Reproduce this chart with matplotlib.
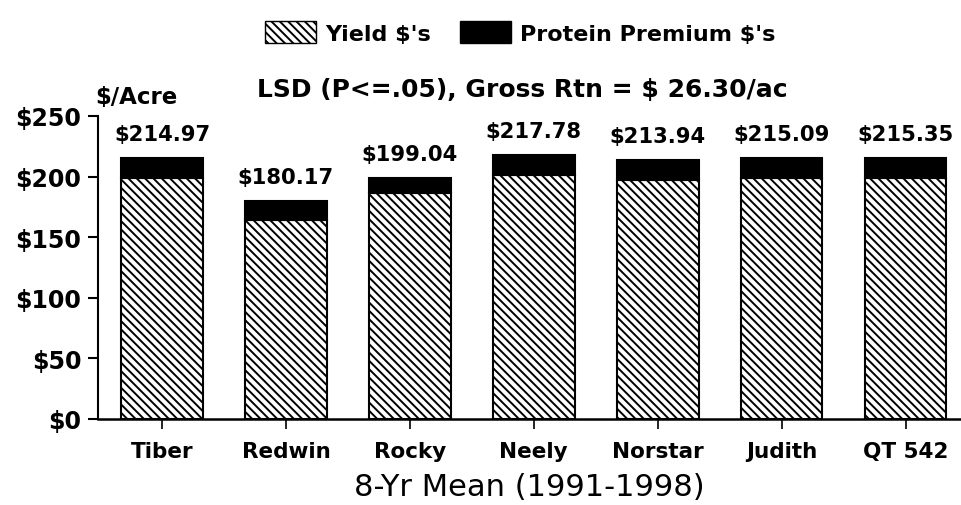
import matplotlib
matplotlib.use("Agg")
import matplotlib.pyplot as plt
import matplotlib.patches as mpatches

plt.rcParams['font.family'] = ['DejaVu Sans']
plt.rcParams['hatch.linewidth'] = 1.4

# data
varieties = ["Tiber", "Redwin", "Rocky", "Neely", "Norstar", "Judith", "QT 542"]
totals = [214.97, 180.17, 199.04, 217.78, 213.94, 215.09, 215.35]
yield_dollars = [199.0, 164.5, 186.0, 201.5, 197.5, 198.5, 198.5]
premium_dollars = [t - y for t, y in zip(totals, yield_dollars)]
yticks = [0, 50, 100, 150, 200, 250]


def main():
    fig = plt.figure(figsize=(9.61, 5.06), dpi=100)
    ax = fig.add_axes([0.102, 0.170, 0.897, 0.599])

    x = list(range(len(varieties)))
    ax.bar(x, yield_dollars, width=0.66, color="white", edgecolor="black",
           hatch="\\\\\\\\", linewidth=1.5)
    ax.bar(x, premium_dollars, width=0.66, bottom=yield_dollars,
           color="black", edgecolor="black", linewidth=1.5)

    for xi, t in zip(x, totals):
        ax.annotate(f"${t:.2f}", (xi, t), xytext=(0, 10), textcoords="offset points",
                    ha="center", va="bottom", fontsize=15.2, fontweight="bold")

    ax.set_xlim(-0.516, 6.44)
    ax.set_ylim(0, 250)
    ax.set_xticks(x)
    ax.set_xticklabels(varieties, fontsize=15.5, fontweight="bold")
    ax.set_yticks(yticks)
    ax.set_yticklabels([f"${v}" for v in yticks], fontsize=17, fontweight="bold")
    ax.tick_params(axis="y", length=7, width=1.5, pad=5)
    ax.tick_params(axis="x", length=7, width=1.2, pad=9)

    for s in ["top", "right"]:
        ax.spines[s].set_visible(False)
    ax.spines["left"].set_linewidth(1.5)
    ax.spines["bottom"].set_linewidth(1.8)

    ax.set_xlabel("8-Yr Mean (1991-1998)", fontsize=22, labelpad=8)

    fig.text(0.099, 0.808, "$/Acre", fontsize=16.5, fontweight="bold",
             ha="left", va="center")
    fig.text(0.543, 0.822, "LSD (P<=.05), Gross Rtn = $ 26.30/ac",
             fontsize=18, fontweight="bold", ha="center", va="center")

    handles = [
        mpatches.Patch(facecolor="white", edgecolor="black", hatch="\\\\\\\\", linewidth=1),
        mpatches.Patch(facecolor="black", edgecolor="black"),
    ]
    fig.legend(handles, ["Yield $'s", "Protein Premium $'s"], loc="center",
               bbox_to_anchor=(0.541, 0.934), ncol=2, frameon=False,
               prop={"size": 16, "weight": "bold"}, handlelength=2.3,
               handleheight=1.1, columnspacing=1.3, handletextpad=0.4)

    fig.savefig("out.png", dpi=100)


if __name__ == "__main__":
    main()
